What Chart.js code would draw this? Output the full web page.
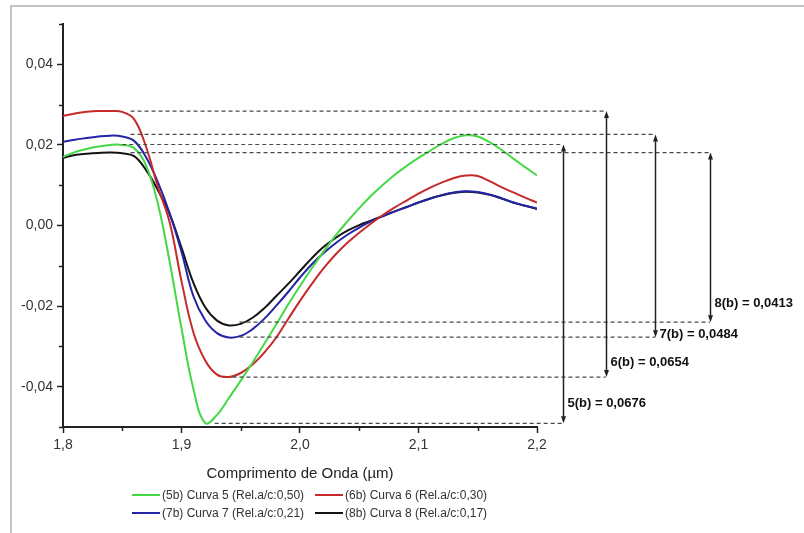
<!DOCTYPE html>
<html>
<head>
<meta charset="utf-8">
<script src="https://cdn.jsdelivr.net/npm/chart.js"></script>
<style>
  html, body { margin: 0; padding: 0; background: #fff; }
  #wrap { position: relative; width: 804px; height: 533px; overflow: hidden; }
  #frame { position: absolute; left: 10px; top: 5px; right: 0; bottom: 0;
           border-left: 2px solid #c4c4c4; border-top: 2px solid #c4c4c4; }
  #chart { position: absolute; left: 0; top: 0; }
  #legend { position: absolute; left: 132px; top: 487px; width: 380px;
            display: grid; grid-template-columns: 183px 183px; row-gap: 2px;
            font: 12px "Liberation Sans", Arial, sans-serif; color: #333; }
  .legend-item { display: flex; align-items: center; height: 16px; white-space: nowrap; }
  .legend-line { width: 28px; height: 2px; margin-right: 2px; }
</style>
</head>
<body>
<div id="wrap">
  <div id="frame"></div>
  <canvas id="chart" width="804" height="533"></canvas>
  <div id="legend"></div>
</div>
<script>
// comprimento de onda (µm)
const wavelengths = [1.80, 1.81, 1.82, 1.83, 1.84, 1.85, 1.86, 1.87, 1.88, 1.89,
                     1.90, 1.91, 1.92, 1.93, 1.94, 1.95, 1.96, 1.97, 1.98, 1.99,
                     2.00, 2.01, 2.02, 2.03, 2.04, 2.05, 2.06, 2.07, 2.08, 2.09,
                     2.10, 2.11, 2.12, 2.13, 2.14, 2.15, 2.16, 2.17, 2.18, 2.19, 2.20];

const curva5 = [0.0170, 0.0182, 0.0190, 0.0196, 0.0200, 0.0200, 0.0192, 0.0150, 0.0055, -0.0090,
                -0.0255, -0.0405, -0.0490, -0.0470, -0.0428, -0.0385, -0.0340, -0.0293, -0.0245, -0.0196,
                -0.0150, -0.0106, -0.0064, -0.0025, 0.0010, 0.0043, 0.0074, 0.0101, 0.0126, 0.0148,
                0.0168, 0.0186, 0.0203, 0.0217, 0.0224, 0.0221, 0.0207, 0.0188, 0.0166, 0.0145, 0.0124];

const curva6 = [0.0272, 0.0278, 0.0282, 0.0284, 0.0284, 0.0282, 0.0264, 0.0196, 0.0096, 0.0008,
                -0.0138, -0.0265, -0.0335, -0.0370, -0.0376, -0.0366, -0.0345, -0.0315, -0.0278, -0.0232,
                -0.0187, -0.0145, -0.0106, -0.0072, -0.0043, -0.0018, 0.0005, 0.0026, 0.0045, 0.0062,
                0.0079, 0.0094, 0.0107, 0.0118, 0.0124, 0.0123, 0.0110, 0.0095, 0.0082, 0.0069, 0.0057];

const curva7 = [0.0208, 0.0213, 0.0217, 0.0221, 0.0223, 0.0221, 0.0210, 0.0170, 0.0108, 0.0030,
                -0.0065, -0.0175, -0.0235, -0.0267, -0.0278, -0.0274, -0.0257, -0.0231, -0.0199, -0.0165,
                -0.0129, -0.0096, -0.0068, -0.0044, -0.0023, -0.0005, 0.0010, 0.0023, 0.0035, 0.0046,
                0.0057, 0.0067, 0.0076, 0.0082, 0.0085, 0.0083, 0.0077, 0.0068, 0.0057, 0.0049, 0.0042];

const curva8 = [0.0168, 0.0175, 0.0178, 0.0180, 0.0181, 0.0179, 0.0172, 0.0138, 0.0088, 0.0028,
                -0.0055, -0.0142, -0.0203, -0.0236, -0.0248, -0.0244, -0.0229, -0.0205, -0.0175, -0.0145,
                -0.0113, -0.0081, -0.0053, -0.0031, -0.0013, 0.0001, 0.0012, 0.0024, 0.0035, 0.0046,
                0.0057, 0.0067, 0.0075, 0.0081, 0.0084, 0.0082, 0.0076, 0.0067, 0.0057, 0.0049, 0.0041];

const seriesLabels = ['(5b) Curva 5 (Rel.a/c:0,50)', '(6b) Curva 6 (Rel.a/c:0,30)',
                      '(7b) Curva 7 (Rel.a/c:0,21)', '(8b) Curva 8 (Rel.a/c:0,17)'];
const seriesColors = ['#45d845', '#c62a2a', '#2424a6', '#141414'];

const xTicks = [1.8, 1.9, 2.0, 2.1, 2.2];
const xTickLabels = ['1,8', '1,9', '2,0', '2,1', '2,2'];
const xMinor = [1.85, 1.95, 2.05, 2.15];
const yTicks = [-0.04, -0.02, 0.00, 0.02, 0.04];
const yTickLabels = ['-0,04', '-0,02', '0,00', '0,02', '0,04'];
const yMinor = [-0.05, -0.03, -0.01, 0.01, 0.03, 0.05];

// amplitude pico-a-pico de cada curva (setas à direita)
const ampLabels = ['5(b) = 0,0676', '6(b) = 0,0654', '7(b) = 0,0484', '8(b) = 0,0413'];
const ampTop = [0.0201, 0.0284, 0.0226, 0.0181];
const ampBottom = [-0.0491, -0.0376, -0.0277, -0.0240];
const ampTopFrom = [1.850, 1.857, 1.857, 1.857];
const ampBottomFrom = [1.928, 1.943, 1.949, 1.949];
const ampArrowX = [2.222, 2.258, 2.300, 2.346];
const ampLabelY = [-0.0442, -0.0340, -0.0271, -0.0194];

const curves = [curva5, curva6, curva7, curva8];

const extrasPlugin = {
    id: 'extras',
    afterDatasetsDraw(chart) {
        const ctx = chart.ctx;
        const xs = chart.scales.x, ys = chart.scales.y;
        const left = chart.chartArea.left, bottom = chart.chartArea.bottom;
        ctx.save();
        // minor ticks
        ctx.strokeStyle = '#222';
        ctx.lineWidth = 1.5;
        yMinor.forEach(v => {
            const py = Math.round(ys.getPixelForValue(v)) + 0.5;
            ctx.beginPath(); ctx.moveTo(left - 4, py); ctx.lineTo(left, py); ctx.stroke();
        });
        xMinor.forEach(v => {
            const px = Math.round(xs.getPixelForValue(v)) + 0.5;
            ctx.beginPath(); ctx.moveTo(px, bottom); ctx.lineTo(px, bottom + 4); ctx.stroke();
        });

        // dashed guides
        ctx.strokeStyle = '#4a4a4a';
        ctx.lineWidth = 1.2;
        ctx.setLineDash([4, 3]);
        ampLabels.forEach((t, i) => {
            const ax = xs.getPixelForValue(ampArrowX[i]);
            const ty = ys.getPixelForValue(ampTop[i]);
            const by = ys.getPixelForValue(ampBottom[i]);
            ctx.beginPath();
            ctx.moveTo(xs.getPixelForValue(ampTopFrom[i]), ty); ctx.lineTo(ax, ty);
            ctx.moveTo(xs.getPixelForValue(ampBottomFrom[i]), by); ctx.lineTo(ax, by);
            ctx.stroke();
        });
        ctx.setLineDash([]);

        // double arrows + labels
        ctx.strokeStyle = '#222';
        ctx.lineWidth = 1.5;
        ampLabels.forEach((t, i) => {
            const ax = Math.round(xs.getPixelForValue(ampArrowX[i])) + 0.5;
            const ty = ys.getPixelForValue(ampTop[i]);
            const by = ys.getPixelForValue(ampBottom[i]);
            ctx.fillStyle = '#222';
            ctx.beginPath(); ctx.moveTo(ax, ty + 5); ctx.lineTo(ax, by - 5); ctx.stroke();
            ctx.beginPath(); ctx.moveTo(ax, ty); ctx.lineTo(ax - 2.5, ty + 7); ctx.lineTo(ax + 2.5, ty + 7); ctx.closePath(); ctx.fill();
            ctx.beginPath(); ctx.moveTo(ax, by); ctx.lineTo(ax - 2.5, by - 7); ctx.lineTo(ax + 2.5, by - 7); ctx.closePath(); ctx.fill();
            ctx.font = 'bold 13px "Liberation Sans", Arial, sans-serif';
            ctx.textBaseline = 'middle';
            ctx.textAlign = 'left';
            ctx.fillStyle = '#111';
            ctx.fillText(t, ax + 4, ys.getPixelForValue(ampLabelY[i]));
        });
        ctx.restore();
    }
};

const ctx = document.getElementById('chart').getContext('2d');
const chart = new Chart(ctx, {
    type: 'line',
    data: {
        datasets: curves.map((c, i) => ({
            label: seriesLabels[i],
            data: wavelengths.map((w, j) => ({ x: w, y: c[j] })),
            borderColor: seriesColors[i],
            borderWidth: 2,
            pointRadius: 0,
            fill: false,
            tension: 0.4
        }))
    },
    options: {
        responsive: false,
        animation: false,
        layout: { padding: { left: 0, top: 24, right: 267, bottom: 46 } },
        scales: {
            x: {
                type: 'linear',
                min: 1.8,
                max: 2.2,
                afterBuildTicks: s => { s.ticks = xTicks.map(v => ({ value: v })); },
                afterFit: s => { s.height = 60; },
                ticks: {
                    callback: v => xTickLabels[xTicks.findIndex(t => Math.abs(t - v) < 1e-6)],
                    color: '#333',
                    font: { family: '"Liberation Sans", Arial, sans-serif', size: 14 },
                    padding: 4,
                    maxRotation: 0
                },
                grid: { drawOnChartArea: false, tickLength: 6, tickColor: '#222', tickWidth: 1.5 },
                border: { color: '#222', width: 2 },
                title: {
                    display: true,
                    text: 'Comprimento de Onda (µm)',
                    color: '#222',
                    font: { family: '"Liberation Sans", Arial, sans-serif', size: 15 },
                    padding: { top: 4 }
                }
            },
            y: {
                min: -0.05,
                max: 0.05,
                afterBuildTicks: s => { s.ticks = yTicks.map(v => ({ value: v })); },
                afterFit: s => { s.width = 63; },
                ticks: {
                    callback: v => yTickLabels[yTicks.findIndex(t => Math.abs(t - v) < 1e-6)],
                    color: '#333',
                    font: { family: '"Liberation Sans", Arial, sans-serif', size: 14 },
                    padding: 4
                },
                grid: { drawOnChartArea: false, tickLength: 6, tickColor: '#222', tickWidth: 1.5 },
                border: { color: '#222', width: 2 }
            }
        },
        plugins: {
            legend: { display: false },
            tooltip: { enabled: false }
        }
    },
    plugins: [extrasPlugin]
});

// legenda em duas colunas
const legend = document.getElementById('legend');
chart.data.datasets.forEach((ds) => {
    const item = document.createElement('div');
    item.classList.add('legend-item');
    const line = document.createElement('div');
    line.classList.add('legend-line');
    line.style.background = ds.borderColor;
    item.appendChild(line);
    const label = document.createElement('span');
    label.textContent = ds.label;
    item.appendChild(label);
    legend.appendChild(item);
});
</script>
</body>
</html>
